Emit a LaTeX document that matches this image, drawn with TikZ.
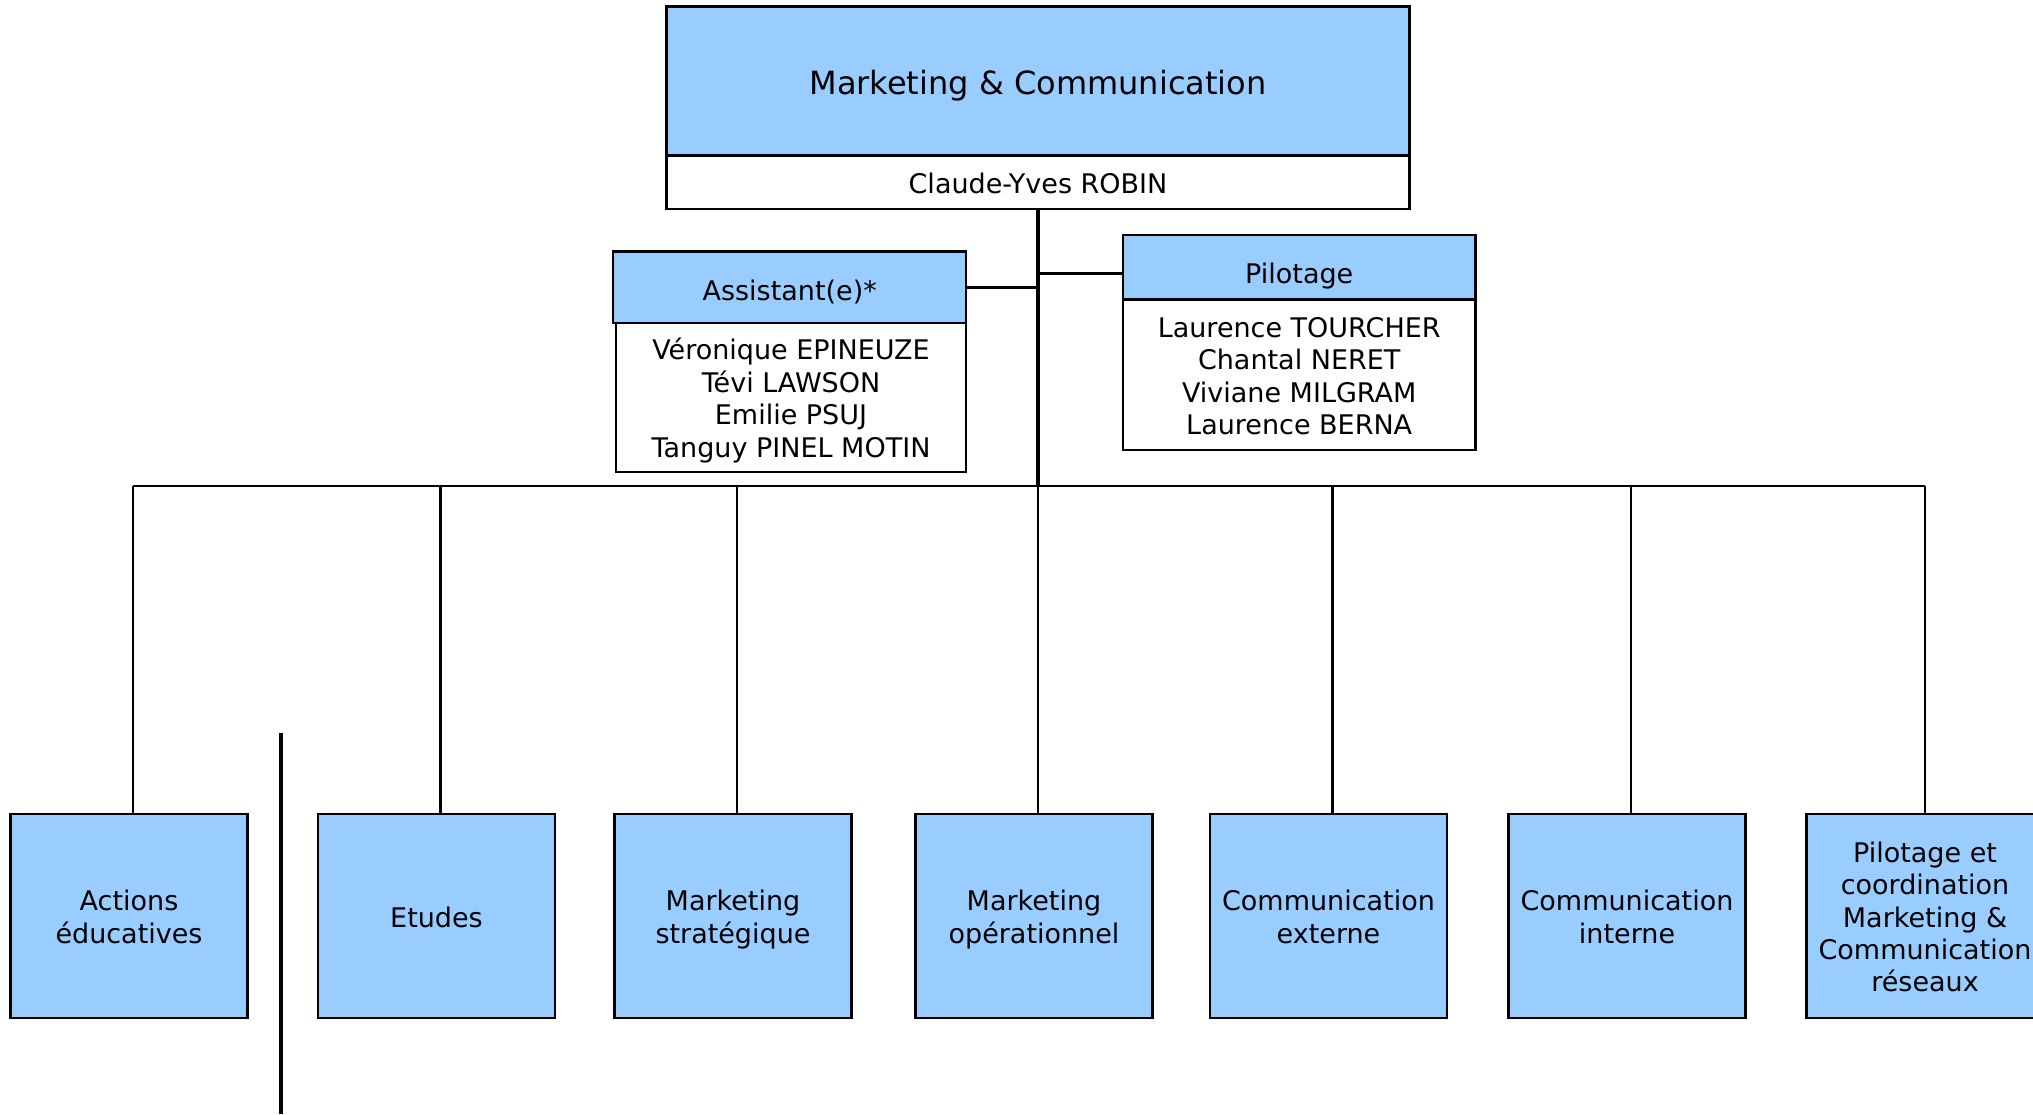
\documentclass[tikz,border=0pt]{standalone}
\usepackage{fontspec}
\setmainfont{DejaVu Sans}
\definecolor{boxblue}{RGB}{153,204,255}
\newcommand{\TopS}{\rule{0pt}{28pt}}
\newcommand{\BotS}{\rule[-6pt]{0pt}{6pt}}
\tikzset{
  basebox/.style={draw=black, line width=2.4pt, inner sep=0pt, align=center, anchor=center},
  bluebox/.style={basebox, fill=boxblue},
  whitebox/.style={basebox, fill=white},
  txt/.style={font=\fontsize{27}{32.4}\selectfont},
  bottombox/.style={bluebox, txt, minimum width=237pt, minimum height=204pt},
  conn/.style={line width=2.6pt},
  trunk/.style={line width=4pt},
}
\begin{document}
\begin{tikzpicture}[x=1pt,y=-1pt]
\path[use as bounding box, clip] (0,0) rectangle (2033,1114);
\fill[white] (0,0) rectangle (2033,1114);

% top box
\node[bluebox, minimum width=743pt, minimum height=149pt, font=\fontsize{32}{38}\selectfont, text height=30pt, text depth=4pt] (mc) at (1038,81) {Marketing \& Communication};
\node[whitebox, txt, minimum width=743pt, minimum height=53pt, text height=27pt, text depth=5.4pt] (robin) at (1038,182.2) {Claude-Yves ROBIN};

% assistant
\node[bluebox, txt, minimum width=353pt, minimum height=71.4pt, text height=28pt, text depth=2.4pt] (asst) at (789.7,287.2) {Assistant(e)*};
\node[whitebox, txt, minimum width=350pt, minimum height=149pt] (asstnames) at (791,397.5) {\TopS Véronique EPINEUZE\\Tévi LAWSON\\Emilie PSUJ\\Tanguy PINEL MOTIN\BotS};

% pilotage
\node[bluebox, txt, minimum width=352.5pt, minimum height=64.8pt, text height=34pt, text depth=2.2pt] (pil) at (1299.2,267.1) {Pilotage};
\node[whitebox, txt, minimum width=352.5pt, minimum height=150.5pt] (pilnames) at (1299.2,374.8) {\TopS Laurence TOURCHER\\Chantal NERET\\Viviane MILGRAM\\Laurence BERNA\BotS};

% bottom boxes
\node[bottombox] (b1) at (129,916) {\TopS Actions\\éducatives\BotS};
\node[bottombox] (b2) at (436.5,916) {\TopS Etudes\BotS};
\node[bottombox] (b3) at (733,916) {\TopS Marketing\\stratégique\BotS};
\node[bottombox] (b4) at (1034,916) {\TopS Marketing\\opérationnel\BotS};
\node[bottombox] (b5) at (1328.5,916) {\TopS Communication\\externe\BotS};
\node[bottombox] (b6) at (1627,916) {\TopS Communication\\interne\BotS};
\node[bottombox] (b7) at (1925,916) {\TopS Pilotage et\\coordination\\Marketing \&\\Communication\\réseaux\BotS};

% connectors
\coordinate (bj) at (1038,486);
\draw[trunk] (robin.south) -- (bj);
\draw[conn] (asst.east) -- (asst.east -| robin.south);
\draw[conn] ([yshift=-6.5pt]pil.west) -- ([yshift=-6.5pt]pil.west -| robin.south);
\draw[conn] ([xshift=4pt]b1.north |- bj) -- (b7.north |- bj);
\foreach \b in {b1,b2,b3,b4,b5,b6}{
  \draw[conn] ([xshift=4pt]\b.north) -- ([xshift=4pt]\b.north |- bj);
}
\draw[conn] (b7.north) -- (b7.north |- bj);

% stray vertical line
\coordinate (s1) at (281,733);
\coordinate (s2) at (281,1114);
\draw[trunk] (s1) -- (s2);
\end{tikzpicture}
\end{document}
